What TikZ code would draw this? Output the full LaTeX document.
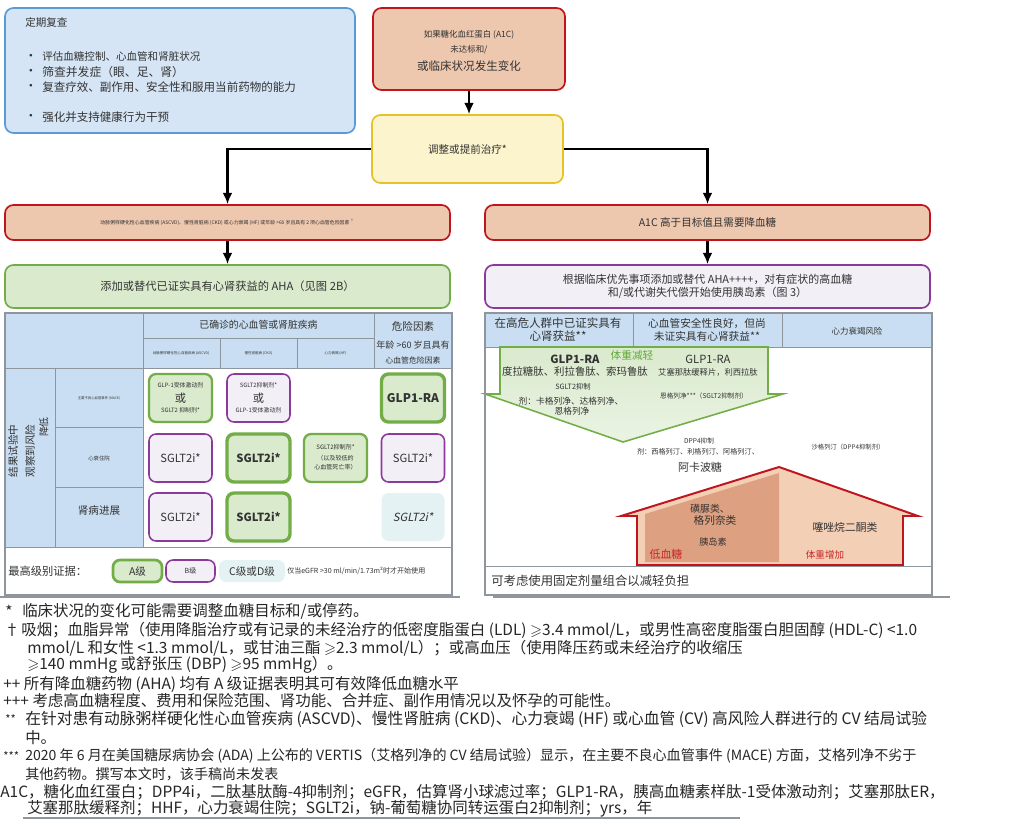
\documentclass[tikz,border=0pt]{standalone}
\usepackage{amsmath, amssymb}
\usepackage{fontspec}
\setmainfont{Noto Sans CJK SC}
\newfontfamily\slantcjk[FakeSlant=0.2]{Noto Sans CJK SC}
\usepackage{tikz}
\usetikzlibrary{arrows.meta}

\definecolor{ink}{HTML}{333333}
\definecolor{bluefill}{HTML}{D5E5F5}
\definecolor{blueline}{HTML}{5B9BD5}
\definecolor{redfill}{HTML}{EDC7AE}
\definecolor{redline}{HTML}{C0141E}
\definecolor{yellowfill}{HTML}{FBF4CD}
\definecolor{yellowline}{HTML}{E6C229}
\definecolor{greenfill}{HTML}{DAEACD}
\definecolor{greenline}{HTML}{72AD47}
\definecolor{purplefill}{HTML}{F3EFF7}
\definecolor{purpleline}{HTML}{8B3A9C}
\definecolor{headfill}{HTML}{C9DEF2}
\definecolor{cyanfill}{HTML}{E4F2F4}
\definecolor{gridline}{HTML}{8E959C}
\definecolor{housedark}{HTML}{DDA080}
\definecolor{houselight}{HTML}{F3CFB6}
\definecolor{warnred}{HTML}{C62828}
\definecolor{lossgreen}{HTML}{62A83C}

\newcommand{\fsz}[2]{\fontsize{#1}{#2}\selectfont}

\begin{document}
\begin{tikzpicture}[x=0.025cm, y=-0.025cm,
  every node/.style={inner sep=0pt, text=ink},
  boxsize/.style 2 args={minimum width=#1*0.025cm, minimum height=#2*0.025cm},
  panel/.style={draw, rounded corners=6pt, line width=1.2pt},
  arr/.style={line width=1.5pt, -{Latex[length=8pt,width=7pt]}},
  tabline/.style={draw=gridline, line width=0.6pt},
  levela/.style={draw=greenline, fill=greenfill, rounded corners=5pt, line width=1.9pt, boxsize={63}{48}},
  levelb/.style={draw=purpleline, fill=purplefill, rounded corners=5pt, line width=1.1pt, boxsize={63}{48}},
  levelc/.style={fill=cyanfill, rounded corners=5pt, boxsize={63}{48}},
  fnote/.style={anchor=west, font=\fsz{11pt}{13pt}, text=black!85}]

\fill[white] (0,0) rectangle (1024,820);
\useasboundingbox (0,0) rectangle (1024,820);

% review box
\node[panel, draw=blueline, fill=bluefill, boxsize={350}{125}] (review) at (180,70.5) {};
\node[anchor=west, font=\fsz{7.5pt}{9pt}] (reviewtitle) at (25,22) {定期复查};
\node[font=\fsz{9pt}{9pt}] (dot1) at (31,57) {•};
\node[font=\fsz{9pt}{9pt}] (dot2) at (31,72) {•};
\node[font=\fsz{9pt}{9pt}] (dot3) at (31,87) {•};
\node[font=\fsz{9pt}{9pt}] (dot4) at (31,117) {•};
\node[anchor=west, font=\fsz{7.5pt}{9pt}] (item1) at (42,57) {评估血糖控制、心血管和肾脏状况};
\node[anchor=west, font=\fsz{8.4pt}{9pt}] (item2) at (42,72) {筛查并发症（眼、足、肾）};
\node[anchor=west, font=\fsz{8.2pt}{9pt}] (item3) at (42,87) {复查疗效、副作用、安全性和服用当前药物的能力};
\node[anchor=west, font=\fsz{8.2pt}{9pt}] (item4) at (42,117) {强化并支持健康行为干预};

% trigger and adjustment
\node[panel, draw=redline, fill=redfill, boxsize={192}{82}] (trigger) at (469,49) {};
\node[font=\fsz{6pt}{7pt}] (trigger1) at (469,35) {如果糖化血红蛋白 (A1C)};
\node[font=\fsz{6pt}{7pt}] (trigger2) at (469,50) {未达标和/};
\node[font=\fsz{8.2pt}{9pt}] (trigger3) at (469,66) {或临床状况发生变化};
\node[panel, draw=yellowline, fill=yellowfill, boxsize={191}{68}, font=\fsz{7.5pt}{9pt}] (adjust) at (467.5,149) {调整或提前治疗*};
\draw[arr] (trigger.south) -- (trigger.south |- adjust.north);

% two branches
\node[panel, draw=redline, fill=redfill, boxsize={445}{35}, font=\fsz{3.5pt}{4pt}] (cvdbar) at (227.5,222.5)
  {动脉粥样硬化性心血管疾病 (ASCVD)、慢性肾脏病 (CKD) 或心力衰竭 (HF) 或年龄 >60 岁且具有 2 项心血管危险因素\,\textsuperscript{†}};
\node[panel, draw=redline, fill=redfill, boxsize={445}{35}, font=\fsz{7.5pt}{9pt}] (glucbar) at (707.5,222.5) {A1C 高于目标值且需要降血糖};
\draw[arr] (adjust.west) -| (cvdbar.north);
\draw[arr] (adjust.east) -| (glucbar.north);

\node[panel, draw=greenline, fill=greenfill, boxsize={445}{43}, font=\fsz{8pt}{10pt}] (cardio) at (227.5,286.5)
  {添加或替代已证实具有心肾获益的 AHA（见图 2B）};
\node[panel, draw=purpleline, fill=purplefill, boxsize={445}{43}, align=center, font=\fsz{7.8pt}{9.3pt}] (prio) at (707.5,286.5)
  {根据临床优先事项添加或替代 AHA++++，对有症状的高血糖\\和/或代谢失代偿开始使用胰岛素（图 3）};
\draw[arr] (cvdbar.south) -- (cardio.north);
\draw[arr] (glucbar.south) -- (prio.north);

% left table
\fill[headfill] (5,313) rectangle (452,368);
\fill[headfill] (5,368) rectangle (143,547);
\draw[tabline] (143,313) -- (143,547);
\draw[tabline] (143,338) -- (374,338);
\draw[tabline] (374,313) -- (374,368);
\draw[tabline] (220,338) -- (220,368) (297,338) -- (297,368);
\draw[tabline] (5,368) -- (452,368);
\draw[tabline] (55,368) -- (55,547);
\draw[tabline] (55,427) -- (143,427) (55,487) -- (143,487);
\draw[tabline] (5,547) -- (452,547);
\draw[tabline, line width=1pt] (5,313) rectangle (452,595);
\draw[gridline, line width=1.6pt] (0,597) -- (460,597);

\node[font=\fsz{7pt}{8pt}] (disease) at (258.5,325) {已确诊的心血管或肾脏疾病};
\node[font=\fsz{2.5pt}{3pt}] (ascvd) at (181,353) {动脉粥样硬化性心血管疾病 (ASCVD)};
\node[font=\fsz{2.5pt}{3pt}] (ckd) at (258.5,353) {慢性肾脏病 (CKD)};
\node[font=\fsz{2.5pt}{3pt}] (hf) at (335.5,353) {心力衰竭 (HF)};
\node[font=\fsz{7.5pt}{9pt}] (riskhead) at (413,326) {危险因素};
\node[font=\fsz{6.4pt}{8pt}] (age1) at (413,345) {年龄 >60 岁且具有};
\node[font=\fsz{5.6pt}{7pt}] (age2) at (413,360) {心血管危险因素};

\node[rotate=90, font=\fsz{7.5pt}{9pt}] (reduce1) at (13,451) {结果试验中};
\node[rotate=90, font=\fsz{7.5pt}{9pt}] (reduce2) at (30,451) {观察到风险};
\node[rotate=90, font=\fsz{7pt}{9pt}] (reduce3) at (44,427) {降低};
\node[font=\fsz{2.4pt}{3pt}] (mace) at (99,398) {主要不良心血管事件 (MACE)};
\node[font=\fsz{3.8pt}{4pt}] (hhf) at (99,458) {心衰住院};
\node[font=\fsz{7.5pt}{9pt}] (kidney) at (99,510) {肾病进展};

\node[levela, line width=1.6pt] (mace1) at (180.5,398) {};
\node[font=\fsz{4.2pt}{5pt}] at (180.5,385) {GLP-1受体激动剂};
\node[font=\fsz{8pt}{9pt}] at (180.5,398) {或};
\node[font=\fsz{4.2pt}{5pt}] at (180.5,410) {SGLT2 抑制剂*};
\node[levelb] (mace2) at (258.5,398) {};
\node[font=\fsz{4.2pt}{5pt}] at (258.5,385) {SGLT2抑制剂*};
\node[font=\fsz{8pt}{9pt}] at (258.5,398) {或};
\node[font=\fsz{4.2pt}{5pt}] at (258.5,410) {GLP-1受体激动剂};
\node[levela, line width=2.4pt, font=\bfseries\fsz{8.5pt}{10pt}] (mace4) at (413,398) {GLP1-RA};

\node[levelb, font=\fsz{8pt}{10pt}] (hhf1) at (180.5,458) {SGLT2i*};
\node[levela, line width=2.4pt, font=\bfseries\fsz{8pt}{10pt}] (hhf2) at (258.5,458) {SGLT2i*};
\node[levela, line width=1.6pt] (hhf3) at (335.5,458) {};
\node[font=\fsz{4.3pt}{5pt}] at (335.5,447) {SGLT2抑制剂*};
\node[font=\fsz{4.3pt}{5pt}] at (335.5,458) {（以及较低的};
\node[font=\fsz{4.3pt}{5pt}] at (335.5,467) {心血管死亡率）};
\node[levelb, font=\fsz{8pt}{10pt}] (hhf4) at (413,458) {SGLT2i*};

\node[levelb, font=\fsz{8pt}{10pt}] (ckd1) at (180.5,517) {SGLT2i*};
\node[levela, line width=2.4pt, font=\bfseries\fsz{8pt}{10pt}] (ckd2) at (258.5,517) {SGLT2i*};
\node[levelc, font=\slantcjk\fsz{8pt}{10pt}] (ckd4) at (413,517) {SGLT2i*};

% evidence legend
\node[anchor=west, font=\fsz{8pt}{9pt}] (evidence) at (8,571) {最高级别证据：};
\node[levela, boxsize={49}{22}, font=\fsz{7.5pt}{9pt}] (gradea) at (137.5,571) {A级};
\node[levelb, boxsize={49}{22}, font=\fsz{5pt}{6pt}] (gradeb) at (190.5,571) {B级};
\node[levelc, boxsize={66}{22}, font=\fsz{7.5pt}{9pt}] (gradecd) at (252,571) {C级或D级};
\node[anchor=west, font=\fsz{5pt}{6pt}] (egfr) at (287,571) {仅当eGFR >30 ml/min/1.73m²时才开始使用};

% right table
\fill[headfill] (485,313) rectangle (932,347);
\draw[tabline] (485,347) -- (932,347);
\draw[tabline] (633,313) -- (633,347) (782,313) -- (782,347);
\node[align=center, font=\fsz{8.2pt}{9.3pt}] (proven) at (558,330) {在高危人群中已证实具有\\心肾获益**};
\node[align=center, font=\fsz{7.6pt}{9.3pt}] (neutral) at (707,330) {心血管安全性良好，但尚\\未证实具有心肾获益**};
\node[font=\fsz{6pt}{7pt}] (hfrisk) at (857,331) {心力衰竭风险};

\draw[greenline, line width=1.1pt, top color=greenfill, bottom color=greenfill!55!white]
  (500,347) -- (768,347) -- (768,394) -- (783,394) -- (623,442) -- (485,394) -- (500,394) -- cycle;
\node[font=\bfseries\fsz{8pt}{9pt}] (glp1a) at (575,359) {GLP1-RA};
\node[font=\fsz{7.4pt}{9pt}] (glp1alist) at (575,372) {度拉糖肽、利拉鲁肽、索玛鲁肽};
\node[text=lossgreen, font=\fsz{7.6pt}{9pt}] (loss) at (632,355) {体重减轻};
\node[font=\fsz{8pt}{9pt}] (glp1b) at (708,359) {GLP1-RA};
\node[font=\fsz{5.9pt}{7pt}] (glp1blist) at (708,372) {艾塞那肽缓释片，利西拉肽};
\node[font=\fsz{5.2pt}{6pt}] (sglta) at (573,387) {SGLT2抑制};
\node[font=\fsz{6.2pt}{7pt}] (sgltalist) at (571,401) {剂：卡格列净、达格列净、};
\node[font=\fsz{6.2pt}{7pt}] (sgltalist2) at (572,411) {恩格列净};
\node[font=\fsz{4.7pt}{6pt}] (sgltb) at (704,396) {恩格列净***（SGLT2抑制剂）};

\node[font=\fsz{4.7pt}{6pt}] (dpp4) at (699,441) {DPP4抑制};
\node[font=\fsz{5.1pt}{6pt}] (dpp4list) at (698,452) {剂：西格列汀、利格列汀、阿格列汀、};
\node[font=\fsz{7.8pt}{9pt}] (acarbose) at (700,467) {阿卡波糖};
\node[font=\fsz{4.5pt}{6pt}] (saxa) at (848,447) {沙格列汀（DPP4抑制剂）};

\fill[houselight] (621,516) -- (637,516) -- (637,565) -- (903,565) -- (903,516) -- (918,516) -- (779,467) -- cycle;
\fill[housedark] (645,514) -- (779,473) -- (779,562) -- (645,562) -- cycle;
\draw[redline, line width=1.4pt] (637,565) -- (637,516) -- (621,516) -- (779,467) -- (918,516) -- (903,516) -- (903,565) -- cycle;
\node[font=\fsz{7pt}{8pt}] (sulfo) at (710,509) {磺脲类、};
\node[font=\fsz{7.6pt}{9pt}] (glinide) at (715,520) {格列奈类};
\node[font=\fsz{6.5pt}{8pt}] (insulin) at (713,542) {胰岛素};
\node[text=warnred, font=\fsz{7.8pt}{9pt}] (hypo) at (666,554) {低血糖};
\node[font=\fsz{7.7pt}{9pt}] (tzd) at (845,527) {噻唑烷二酮类};
\node[text=warnred, font=\fsz{6.8pt}{8pt}] (gain) at (825,555) {体重增加};

\draw[tabline] (485,566) -- (932,566);
\node[anchor=west, font=\fsz{8.8pt}{10pt}] (combo) at (491,581) {可考虑使用固定剂量组合以减轻负担};
\draw[tabline, line width=1pt] (485,313) rectangle (932,595);
\draw[gridline, line width=1.6pt] (493,597) -- (950,597);

% footnotes
\node[fnote] (fn1m) at (5,611) {*};
\node[fnote] (fn1) at (22,611) {临床状况的变化可能需要调整血糖目标和/或停药。};
\node[fnote] (fn2m) at (4,630) {†};
\node[fnote] (fn2) at (21,630) {吸烟；血脂异常（使用降脂治疗或有记录的未经治疗的低密度脂蛋白 (LDL) $\geqslant$3.4 mmol/L，或男性高密度脂蛋白胆固醇 (HDL-C) <1.0};
\node[fnote] (fn2b) at (27,648) {mmol/L 和女性 <1.3 mmol/L，或甘油三酯 $\geqslant$2.3 mmol/L）；或高血压（使用降压药或未经治疗的收缩压};
\node[fnote] (fn2c) at (27,665) {$\geqslant$140 mmHg 或舒张压 (DBP) $\geqslant$95 mmHg）。};
\node[fnote] (fn3) at (3,684) {++ 所有降血糖药物 (AHA) 均有 A 级证据表明其可有效降低血糖水平};
\node[fnote] (fn4) at (3,701) {+++ 考虑高血糖程度、费用和保险范围、肾功能、合并症、副作用情况以及怀孕的可能性。};
\node[fnote, font=\fsz{8pt}{9pt}] (fn5m) at (5,719) {**};
\node[fnote, font=\fsz{11.2pt}{13pt}] (fn5) at (25,719) {在针对患有动脉粥样硬化性心血管疾病 (ASCVD)、慢性肾脏病 (CKD)、心力衰竭 (HF) 或心血管 (CV) 高风险人群进行的 CV 结局试验};
\node[fnote] (fn5b) at (25,738) {中。};
\node[fnote, font=\fsz{8pt}{9pt}] (fn6m) at (3,756) {***};
\node[fnote, font=\fsz{10pt}{12pt}] (fn6) at (25,756) {2020 年 6 月在美国糖尿病协会 (ADA) 上公布的 VERTIS（艾格列净的 CV 结局试验）显示，在主要不良心血管事件 (MACE) 方面，艾格列净不劣于};
\node[fnote, font=\fsz{10pt}{12pt}] (fn6b) at (25,774) {其他药物。撰写本文时，该手稿尚未发表};
\node[fnote] (fn7) at (0,792) {A1C，糖化血红蛋白；DPP4i，二肽基肽酶-4抑制剂；eGFR，估算肾小球滤过率；GLP1-RA，胰高血糖素样肽-1受体激动剂；艾塞那肽ER，};
\node[fnote] (fn7b) at (27,809) {艾塞那肽缓释剂；HHF，心力衰竭住院；SGLT2i，钠-葡萄糖协同转运蛋白2抑制剂；yrs，年};
\draw[gridline, line width=0.8pt] (23,818) -- (740,818);
\end{tikzpicture}
\end{document}
